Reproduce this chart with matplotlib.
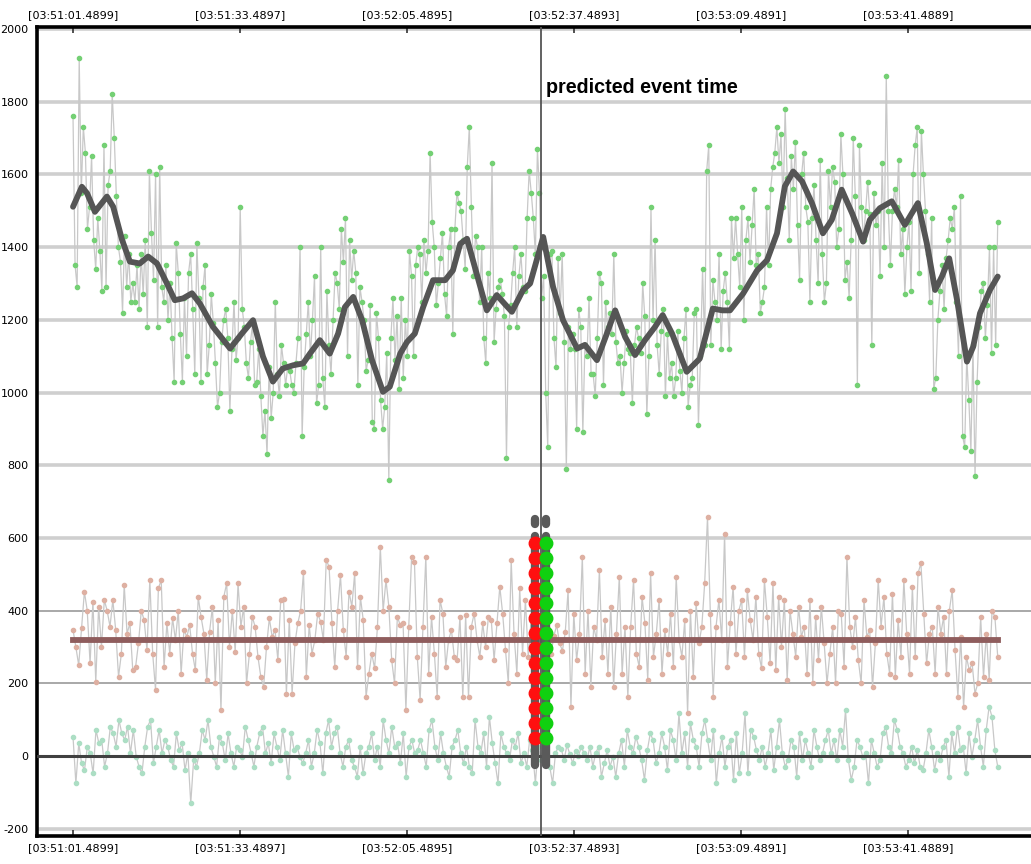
import numpy as np
import matplotlib
matplotlib.use("Agg")
import matplotlib.pyplot as plt

# seconds after 03:51:01.4899
tick_pos = [0, 32, 64, 96, 128, 160]
tick_labels = ["[03:51:01.4899]", "[03:51:33.4897]", "[03:52:05.4895]",
               "[03:52:37.4893]", "[03:53:09.4891]", "[03:53:41.4889]"]
y_ticks = [-200, 0, 200, 400, 600, 800, 1000, 1200, 1400, 1600, 1800, 2000]
t_end = 177.2
t_event = 89.7
t_red = 88.6
t_green = 90.7

# upper signal (green dots)
upper = [
    1760, 1350, 1290, 1920, 1550, 1730, 1660, 1450, 1510, 1650, 1420, 1340, 1480, 1390, 1280,
    1680, 1290, 1570, 1610, 1820, 1700, 1540, 1400, 1360, 1220, 1430, 1290, 1380, 1250,
    1300, 1250, 1350, 1230, 1380, 1270, 1420, 1180, 1610, 1440, 1310, 1600, 1180, 1620, 1290, 1250,
    1350, 1200, 1300, 1150, 1030, 1410, 1330, 1160, 1030, 1260, 1100, 1330, 1380, 1230, 1050, 1410, 1260, 1030,
    1290, 1350, 1050, 1130, 1270, 1190, 1080, 960, 1000, 1140, 1200, 1230, 1150, 950, 1120, 1250, 1090,
    1150, 1510, 1230, 1180, 1080, 1040, 1140, 1190, 1020, 1030, 1120, 990,
    880, 950, 830, 1070, 930, 1000, 1250, 1050, 990, 1130, 1080, 1020, 1070,
    1060, 1020, 1000, 1080, 1150, 1400, 880, 1070, 1160, 1250, 1100, 1200, 1320, 970, 1020, 1400, 1040,
    960, 1280, 1130, 1050, 1200, 1330, 1300, 1230, 1450, 1360, 1480, 1100, 1420, 1310, 1390, 1330, 1020,
    1290, 1250, 1200, 1060, 1090, 1240, 920, 900, 1220, 1150, 980, 900, 960, 1110,
    760, 1150, 1260, 1090, 1210, 1010, 1260, 1040, 1200, 1100, 1390, 1320, 1100,
    1350, 1400, 1380, 1250, 1420, 1330, 1390, 1660, 1470, 1400, 1240, 1300, 1370, 1440, 1270, 1210,
    1400, 1450, 1160, 1450, 1550, 1520, 1500, 1420, 1340, 1620, 1730, 1510, 1320, 1430, 1400,
    1250, 1400, 1150, 1080, 1330, 1260, 1630, 1140, 1230, 1290, 1310, 1270, 1210, 820, 1180,
    1240, 1330, 1400, 1180, 1320, 1380, 1290,
    1280, 1480, 1610, 1550, 1480, 1380, 1670, 1550,
    1260, 1320, 1000, 850, 1380, 1390, 1150, 1070, 1370, 1220, 1380,
    1140, 790, 1180, 1120, 1160, 1120, 900, 1230, 1180, 890, 1130, 1100, 1260, 1050,
    1050, 990, 1150, 1330, 1300, 1020, 1250, 1180, 1220, 1160, 1380, 1140, 1080, 1100, 1000,
    1080, 1170, 1120, 1110, 970, 1130, 1180, 1150, 1110, 1300, 1210, 940, 1100, 1510, 1200,
    1420, 1130, 1050, 1170, 1230, 990, 1160, 1040, 1080, 990, 1040, 1170, 1060, 1000, 1150,
    1230, 960, 1020, 1040, 1220, 1230, 910, 1100, 1340, 1130, 1610, 1680, 1130, 1310,
    1250, 1200, 1380, 1120, 1280, 1330, 1250, 1120, 1480, 1370, 1480, 1380, 1290, 1510, 1200,
    1420, 1480, 1360, 1460, 1560, 1350, 1380,
    1220, 1250, 1290, 1510, 1350, 1560, 1620, 1660, 1730, 1630, 1710, 1510, 1780, 1590, 1420, 1650,
    1560, 1690, 1460, 1310, 1600, 1660, 1510, 1470, 1250, 1480, 1570, 1420, 1300, 1640, 1380, 1250,
    1300, 1610, 1510, 1620, 1580, 1400, 1450, 1710, 1600, 1310, 1360, 1260, 1420, 1700, 1540,
    1020, 1680, 1510, 1420, 1500, 1580, 1490, 1130, 1550, 1460, 1500, 1320, 1630, 1400, 1870, 1500,
    1350, 1500, 1560, 1510, 1640, 1380, 1450, 1270, 1400, 1470, 1280, 1600, 1680, 1730, 1330,
    1720, 1600, 1500, 1380, 1250, 1480, 1010, 1040, 1200, 1280, 1350, 1230, 1370, 1420, 1480,
    1450, 1510, 1250, 1100, 1540, 880, 850, 1100, 980, 840, 1130, 770, 1030, 1180,
    1280, 1300, 1150, 1240, 1400, 1110, 1400, 1130, 1470,
]

# smoothed trend of the upper signal
smooth_t = [0.0, 1.7, 2.7, 4.2, 6.5, 7.7, 9.4, 10.9, 12.8, 14.4, 16.1, 18.0, 19.5, 21.1,
            22.8, 24.3, 26.8, 30.1, 32.4, 34.5, 36.4, 38.3, 40.2, 42.2, 44.1, 45.4, 47.3,
            49.2, 50.8, 52.1, 53.7, 55.4, 57.3, 59.4, 60.7, 62.7, 64.0, 65.5, 67.1, 69.0,
            71.3, 72.8, 74.2, 75.5, 77.0, 79.3, 81.2, 84.1, 86.2, 87.6, 90.1, 92.0, 93.9,
            96.6, 98.1, 100.4, 102.3, 103.9, 105.8, 107.7, 109.6, 111.5, 113.0, 114.8,
            117.6, 120.1, 122.6, 124.4, 125.9, 128.4, 131.1, 133.0, 134.9, 136.4, 138.0,
            139.7, 141.6, 143.7, 145.4, 147.3, 149.3, 151.4, 152.7, 154.6, 156.9, 159.4,
            161.9, 163.6, 165.2, 166.5, 167.9, 169.4, 171.3, 172.5, 173.8, 175.7, 177.2]
smooth_v = [1511, 1566, 1548, 1497, 1539, 1511, 1420, 1360, 1355, 1374, 1355, 1300, 1254, 1259,
            1273, 1245, 1181, 1121, 1163, 1199, 1099, 1030, 1066, 1075, 1080, 1107, 1144,
            1107, 1162, 1235, 1263, 1199, 1089, 1002, 1016, 1107, 1139, 1162, 1235, 1309,
            1309, 1336, 1409, 1423, 1345, 1226, 1268, 1222, 1281, 1300, 1428, 1290, 1199,
            1121, 1131, 1089, 1162, 1226, 1153, 1103, 1144, 1180, 1213, 1162,
            1057, 1093, 1231, 1226, 1226, 1272, 1336, 1364, 1438, 1567, 1608,
            1581, 1521, 1438, 1475, 1558, 1493, 1415, 1475, 1507, 1526, 1461,
            1521, 1411, 1282, 1319, 1369, 1255, 1085, 1126, 1218, 1282, 1319]

# middle signal (brown dots) and its mean
middle = [
    347, 300, 250, 351, 452, 400, 255, 425, 204, 411, 300, 429, 400, 356, 429, 347, 218, 282, 470, 337,
    365, 236, 245, 310, 400, 374, 292, 484, 282, 182, 461, 484, 245, 365, 282, 379, 319, 400, 227, 347,
    328, 360, 282, 236, 438, 383, 337, 209, 342, 411, 200, 374, 127, 438, 475, 300, 400, 287, 475, 356,
    411, 200, 282, 383, 356, 273, 218, 191, 300, 379, 328, 347, 264, 429, 433, 172, 374, 172, 310, 365,
    400, 507, 218, 360, 282, 319, 392, 370, 319, 539, 521, 365, 245, 400, 498, 347, 273, 452, 411, 503,
    245, 438, 374, 163, 227, 282, 241, 356, 576, 400, 484, 411, 264, 200, 383, 360,
    365, 127, 356, 548, 534, 273, 154, 356, 548, 227, 383, 282, 163, 429, 392, 245, 319, 347, 273, 264,
    383, 163, 387, 163, 356, 392, 319, 273, 365, 300, 383, 374, 264, 365, 466, 392, 292, 200, 539, 337,
    227, 461, 282, 429, 273, 374, 433, 319, 292, 365,
    300, 350, 280, 330, 360, 310, 290, 340,
    456, 135, 392, 264, 337, 548, 227, 400, 191, 356, 319, 511, 273, 374, 227, 411, 191, 337, 493, 227,
    356, 163, 356, 484, 282, 245, 438, 365, 209, 503, 273, 337, 429, 227, 347, 282, 392, 245, 493, 319,
    273, 374, 118, 400, 218, 420, 310, 356,
    475, 658, 392, 163, 356, 429, 319, 612, 245, 365, 466, 282, 400, 429, 273, 456, 374, 319, 438, 282,
    241, 484, 383, 255, 475, 236, 438, 300, 429, 209, 400, 337, 273, 411, 328, 356, 227, 429, 200, 383,
    264, 411, 310, 200, 282, 356, 200, 400, 392, 245, 548, 356, 300, 383, 264, 200, 429, 328, 347, 191,
    310, 484, 356, 438, 282, 227, 447, 218, 374, 273, 484, 337, 227, 466, 273, 503, 530, 392, 255, 337,
    356, 227, 411, 337, 383, 227, 400, 456, 292, 163, 328, 135, 273, 236, 255, 172, 200, 383, 218, 337,
    209, 400, 383, 273,
]
middle_mean = 320

# lower signal (pale green dots)
lower = [
    53, -75, 35, -20, -39, 26, 7, -48, 72, 35, 44, -29, 7, 81, 62, 26, 99, 62, 44, 81,
    7, 72, -2, -29, -48, 26, 81, 99, -20, 26, 72, 7, 44, 26, -11, -29, 62, 16, 35, -39,
    7, -130, -11, -29, 7, 72, 44, 99, 26, -2, -29, 53, 35, -11, 62, 7, -29, 26, 16, -2,
    81, 44, 7, -29, 26, 62, 81, 7, 35, -20, 62, 26, -11, 72, 7, -57, 62, 16, 26, -2,
    -20, 7, 44, -29, 7, 72, 35, -48, 62, 99, 26, 62, 81, 7, -29, 26, 44, -11, -29, -57,
    26, -48, 7, 26, 62, -11, 26, -29, 99, 44, 7, 81, 26, 35, -20, 62, -57, 26, 44, 7,
    16, 44, 7, -29, 72, 99, 26, -11, 62, 7, -29, -57, 26, 44, 72, 7, -20, 26, -29, -48,
    99, 26, 7, 62, -29, 108, 35, -20, -75, 62, 26, 7, -11, 44, 26, 62, -20, 7, -29, 44,
    16, -75, 26, -11, 7, 44, -29, -75, 7, 26,
    20, -10, 30, 5, -20, 15, 0, 25,
    7, -11, 26, -29, 7, 26, -57, -20, 16, -29, -2, -57, 7, 44, -29, 72, 26, 7, 53, 26,
    -11, -66, 16, 62, 44, -20, 7, 62, 26, -39, 72, 44, -11, 117, 7, 62, -29, 90, 44, 26,
    -29, 62, 99, 44, -11,
    72, -75, 7, 53, -29, 26, 44, -66, 62, -48, 7, 117, -48, 72, 53, 16, -11, 26, -29, 7,
    72, -39, 26, 99, 7, -29, -11, 44, 26, -57, 62, -11, 44, 7, -29, 72, 26, -11, 7, 44,
    72, 7, 44, -11, 72, 26, 127, -11, -66, -29, 44, 26, -2, 7, -75, 44, 7, -29, -11, 62,
    81, 26, 7, 99, 72, 26, 7, -29, -11, 26, -20, 16, -29, -39, 7, 72, 26, -39, 7, -11,
    26, 44, -57, 62, 7, 81, 16, 26, -48, 62, -2, 44, 99, 26, -29, 72, 136, 108, 16, -29,
]

# event markers around the predicted time
marker_levels = [585, 544, 503, 462, 420, 379, 338, 297, 256, 215, 174, 132, 91, 50]
column_span = [-25, 605]
column_cap = [637, 652]

fig = plt.figure(figsize=(10.31, 8.64), dpi=100)
ax = fig.add_axes([37 / 1031, 1 - 836 / 864, 1003 / 1031, 809 / 864])

ax.set_xlim(-6.9, 185.3)
ax.set_ylim(-220, 2005.5)

# horizontal grid
for yv in y_ticks:
    if yv in (200, 400):
        ax.axhline(yv, color="#a8a8a8", lw=1.4, zorder=0)
    elif yv != 0:
        ax.axhline(yv, color="#cfcfcf", lw=2.6, zorder=0)

line_col = "#c8c8c8"
for vals, mcol in [(upper, "#74d074"), (middle, "#deb0a2"), (lower, "#acdec4")]:
    t = np.linspace(0, t_end, len(vals))
    ax.plot(t, vals, color=line_col, lw=0.9, zorder=2)
    ax.plot(t, vals, ls="none", marker="o", ms=3.0, mfc=mcol, mec=mcol, zorder=3)

ax.plot(smooth_t, smooth_v, color="#555555", lw=4.2, solid_joinstyle="round",
        solid_capstyle="round", zorder=5)
ax.plot([0, t_end], [middle_mean, middle_mean], color="#8f5d5d", lw=4.2, zorder=5)
ax.axhline(0, color="#404040", lw=2.2, zorder=4)

ax.axvline(t_event, color="#555555", lw=1.3, zorder=6)

for tc, dcol in [(t_red, "#ff1010"), (t_green, "#10d010")]:
    ax.plot([tc, tc], column_span, color="#5a5a5a", lw=6, solid_capstyle="round", zorder=7)
    ax.plot([tc, tc], column_cap, color="#5a5a5a", lw=6, solid_capstyle="round", zorder=7)
    ax.plot([tc] * len(marker_levels), marker_levels, ls="none", marker="o", ms=9,
            mfc=dcol, mec=dcol, zorder=8)

ax.text(t_event + 0.9, 1838, "predicted event time", fontsize=14.2, fontweight="bold",
        family="Liberation Sans", ha="left", va="center", zorder=9)

# axes frame and ticks
for side in ("left", "top", "bottom"):
    ax.spines[side].set_linewidth(2.6)
    ax.spines[side].set_color("black")
ax.spines["right"].set_visible(False)

ax.set_xticks(tick_pos)
ax.set_xticklabels(tick_labels)
ax.set_xticks([0, 64, 128], minor=True)
ax.tick_params(axis="x", which="major", top=True, labeltop=True, direction="in",
               length=4, width=1.2, labelsize=8, pad=5, color="#333333")
ax.tick_params(axis="x", which="minor", top=True, direction="in", length=6, width=3,
               color="black")
ax.set_yticks(y_ticks)
ax.set_yticklabels([str(v) for v in y_ticks])
ax.tick_params(axis="y", length=0, labelsize=8, pad=6)

fig.savefig("out.png", dpi=100)
